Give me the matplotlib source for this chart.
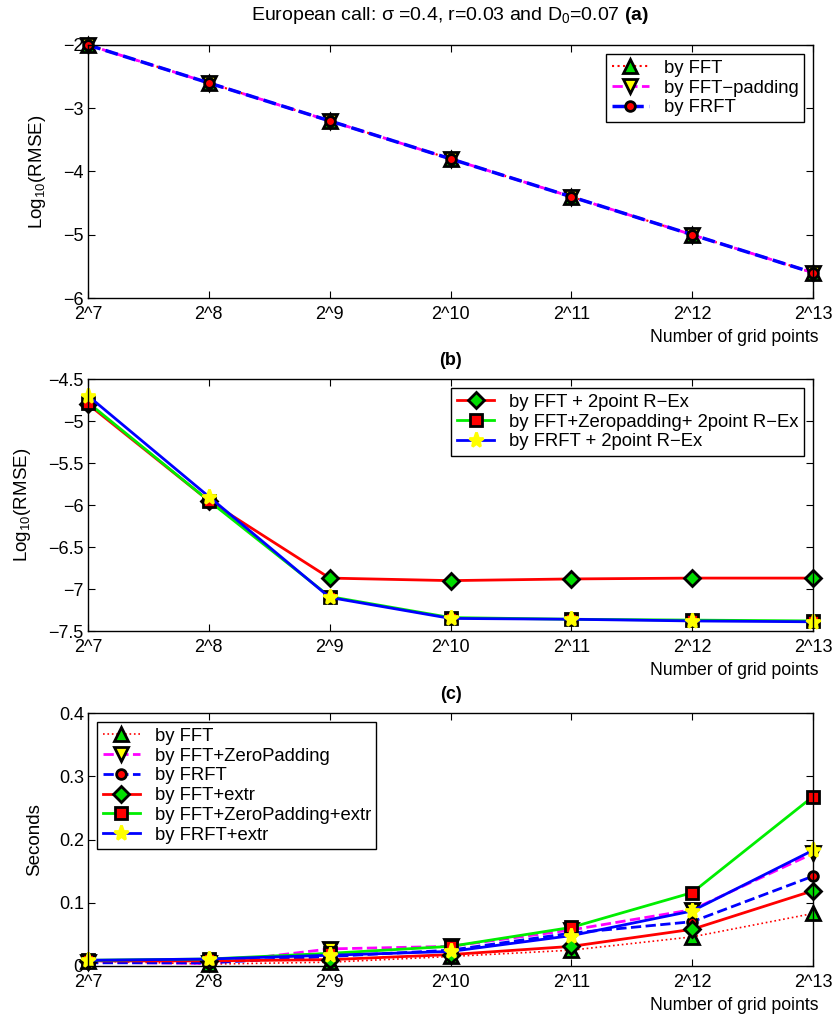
import matplotlib
matplotlib.use("Agg")
from matplotlib import pyplot as plt
import numpy as np

plt.rcParams['font.family'] = ['Liberation Sans', 'DejaVu Sans']
plt.rcParams['mathtext.fontset'] = 'custom'
plt.rcParams['mathtext.rm'] = 'Liberation Sans'
plt.rcParams['mathtext.bf'] = 'Liberation Sans:bold'

# === data ===
x_labels = ["2^7", "2^8", "2^9", "2^10", "2^11", "2^12", "2^13"]

# (a) log10 RMSE
a_fft = [-2.0, -2.6, -3.2, -3.8, -4.4, -5.0, -5.6]
a_fft_pad = [-2.0, -2.6, -3.2, -3.8, -4.4, -5.0, -5.6]
a_frft = [-2.0, -2.6, -3.2, -3.8, -4.4, -5.0, -5.6]

# (b) log10 RMSE with 2-point Richardson extrapolation
b_fft = [-4.80, -5.95, -6.87, -6.90, -6.88, -6.87, -6.87]
b_fft_pad = [-4.78, -5.95, -7.09, -7.34, -7.36, -7.37, -7.38]
b_frft = [-4.70, -5.90, -7.10, -7.35, -7.36, -7.38, -7.39]

# (c) seconds
c_fft = [0.008, 0.003, 0.006, 0.015, 0.025, 0.046, 0.083]
c_fft_pad = [0.006, 0.004, 0.027, 0.031, 0.057, 0.089, 0.178]
c_frft = [0.005, 0.005, 0.015, 0.025, 0.052, 0.070, 0.142]
c_fft_ext = [0.008, 0.008, 0.010, 0.018, 0.031, 0.058, 0.119]
c_fft_pad_ext = [0.009, 0.011, 0.020, 0.031, 0.061, 0.116, 0.268]
c_frft_ext = [0.009, 0.011, 0.017, 0.023, 0.048, 0.087, 0.183]

x = np.arange(len(x_labels))

fig = plt.figure(figsize=(8.35, 10.15), dpi=100)
L, W = 0.1054, 0.8683
ax_a = fig.add_axes([L, 0.7064, W, 0.2493])
ax_b = fig.add_axes([L, 0.3783, W, 0.2483])
ax_c = fig.add_axes([L, 0.0483, W, 0.2492])

mk = dict(markersize=10, markeredgecolor='k', markeredgewidth=2)
star = dict(marker='*', markersize=11, markerfacecolor='yellow',
            markeredgecolor='yellow', markeredgewidth=2)
leg = dict(fontsize=13.3, fancybox=False, edgecolor='k', framealpha=1,
           handlelength=2.0, borderpad=0.3, labelspacing=0.15,
           handletextpad=0.8)


def style(ax, ytick_labels):
    ax.set_xlim(0, len(x) - 1)
    ax.set_xticks(x)
    ax.set_xticklabels(x_labels, fontsize=13)
    ax.set_yticklabels(ytick_labels, fontsize=13)
    ax.tick_params(direction='in', top=True, right=True,
                   length=5, width=0.8)
    ax.tick_params(axis='x', pad=6)
    ax.tick_params(axis='y', pad=3)
    for s in ax.spines.values():
        s.set_linewidth(1.0)
    ax.text(1.007, -0.155, "Number of grid points", transform=ax.transAxes,
            ha='right', va='center', fontsize=12.7)


# (a)
ax_a.plot(x, a_fft, ':', color='red', lw=1.5, marker='^',
          markerfacecolor='#00dd00', label='by FFT', **mk)
ax_a.plot(x, a_fft_pad, '--', color='magenta', lw=2, marker='v',
          markerfacecolor='yellow', label='by FFT\u2212padding', **mk)
ax_a.plot(x, a_frft, '--', color='blue', lw=2.5, marker='o',
          markerfacecolor='red', markersize=7, markeredgecolor='k',
          markeredgewidth=2, label='by FRFT')
ax_a.set_ylim(-6, -2)
ax_a.set_yticks([-6, -5, -4, -3, -2])
ax_a.set_ylabel("Log$_{10}$(RMSE)", fontsize=13.5, labelpad=11)
ax_a.set_title("European call: \u03c3 =0.4, r=0.03 and D$_0$=0.07 $\\bf{(a)}$",
               fontsize=14, pad=18)
style(ax_a, ['\u22126', '\u22125', '\u22124', '\u22123', '\u22122'])
ax_a.legend(loc='upper right', **leg)

# (b)
ax_b.plot(x, b_fft, '-', color='red', lw=2, marker='D',
          markerfacecolor='#00dd00', markersize=8, markeredgecolor='k',
          markeredgewidth=2, label='by FFT + 2point R\u2212Ex')
ax_b.plot(x, b_fft_pad, '-', color='#00ee00', lw=2, marker='s',
          markerfacecolor='red', markersize=8, markeredgecolor='k',
          markeredgewidth=2, label='by FFT+Zeropadding+ 2point R\u2212Ex')
ax_b.plot(x, b_frft, '-', color='blue', lw=2, label='by FRFT + 2point R\u2212Ex',
          **star)
ax_b.set_ylim(-7.5, -4.5)
ax_b.set_yticks([-7.5, -7, -6.5, -6, -5.5, -5, -4.5])
ax_b.set_ylabel("Log$_{10}$(RMSE)", fontsize=13.5, labelpad=11)
ax_b.set_title("(b)", fontsize=13, fontweight='bold', pad=10)
style(ax_b, ['\u22127.5', '\u22127', '\u22126.5', '\u22126',
             '\u22125.5', '\u22125', '\u22124.5'])
ax_b.legend(loc='upper right', **leg)

# (c)
ax_c.plot(x, c_fft, ':', color='red', lw=1.2, marker='^',
          markerfacecolor='#00dd00', label='by FFT', **mk)
ax_c.plot(x, c_fft_pad, '--', color='magenta', lw=2, marker='v',
          markerfacecolor='yellow', label='by FFT+ZeroPadding', **mk)
ax_c.plot(x, c_frft, '--', color='blue', lw=2, marker='o',
          markerfacecolor='red', markersize=7, markeredgecolor='k',
          markeredgewidth=2, label='by FRFT')
ax_c.plot(x, c_fft_ext, '-', color='red', lw=2, marker='D',
          markerfacecolor='#00dd00', markersize=8, markeredgecolor='k',
          markeredgewidth=2, label='by FFT+extr')
ax_c.plot(x, c_fft_pad_ext, '-', color='#00ee00', lw=2, marker='s',
          markerfacecolor='red', markersize=8, markeredgecolor='k',
          markeredgewidth=2, label='by FFT+ZeroPadding+extr')
ax_c.plot(x, c_frft_ext, '-', color='blue', lw=2, label='by FRFT+extr', **star)
ax_c.set_ylim(0, 0.4)
ax_c.set_yticks([0, 0.1, 0.2, 0.3, 0.4])
ax_c.set_ylabel("Seconds", fontsize=13.5, labelpad=11)
ax_c.set_title("(c)", fontsize=13, fontweight='bold', pad=10)
style(ax_c, ['0', '0.1', '0.2', '0.3', '0.4'])
ax_c.legend(loc='upper left', **leg)

for ax in (ax_a, ax_b, ax_c):
    for line in ax.get_lines():
        line.set_clip_on(False)

fig.savefig("out.png", dpi=100)
